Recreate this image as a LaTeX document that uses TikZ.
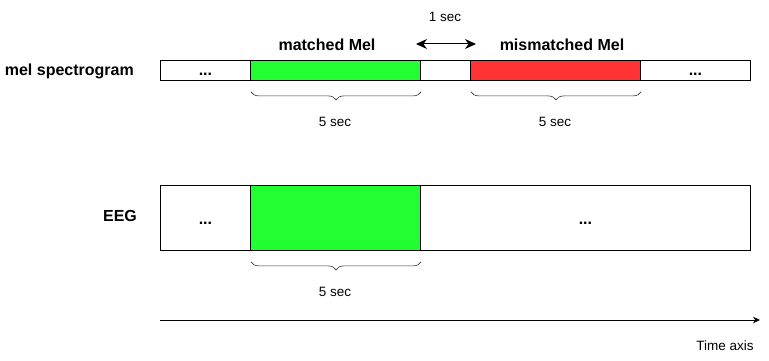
\documentclass[tikz,border=0pt]{standalone}
\usepackage{fontspec}
\setmainfont{Liberation Sans}
\usetikzlibrary{arrows.meta,decorations.pathreplacing}
\begin{document}
\begin{tikzpicture}[x=1pt,y=-1pt,
  cell/.style={draw=black,line width=0.9pt,minimum height=20pt,inner sep=0pt,anchor=north west},
  eegcell/.style={draw=black,line width=0.9pt,minimum height=65pt,inner sep=0pt,anchor=north west},
  lbl/.style={font=\fontsize{16}{18}\selectfont\bfseries,inner sep=0pt},
  dots/.style={font=\fontsize{16}{18}\selectfont\bfseries,inner sep=0pt},
  small/.style={font=\fontsize{13.5}{15}\selectfont,inner sep=0pt},
  brc/.style={decorate,decoration={brace,mirror,amplitude=8pt,aspect=0.5},line width=0.6pt,draw=black!80}
]
\useasboundingbox (0,0) rectangle (769,361);
\definecolor{mgreen}{RGB}{33,255,51}
\definecolor{mred}{RGB}{255,51,51}
% mel row
\node[cell,minimum width=90pt] (m1) at (160,60) {};
\node[cell,minimum width=170pt,fill=mgreen] (m2) at (250,60) {};
\node[cell,minimum width=50pt] (m3) at (420,60) {};
\node[cell,minimum width=170pt,fill=mred] (m4) at (470,60) {};
\node[cell,minimum width=110pt] (m5) at (640,60) {};
\node[dots] at ([yshift=-4pt]m1.center) {...};
\node[dots] at ([yshift=-4pt]m5.center) {...};
\node[lbl,anchor=east] (mel) at (134,71) {mel spectrogram};
\node[lbl] (mt) at (327,45) {matched Mel};
\node[lbl] (mm) at (562,45) {mismatched Mel};
\node[small] (one) at (445,17) {1 sec};
\coordinate (aL) at (416,44);
\coordinate (aR) at (476,44);
\draw[{Stealth[length=11pt,width=10pt]}-{Stealth[length=11pt,width=10pt]},line width=1pt] (aL) -- (aR);
% braces
\draw[brc] (m2.south west) ++(1,11) -- ++(170,0) coordinate (b1e);
\draw[brc] (m4.south west) ++(1,11) -- ++(170,0) coordinate (b2e);
\node[small] (s1) at (335,122) {5 sec};
\node[small] (s2) at (555,122) {5 sec};
% EEG row
\node[eegcell,minimum width=90pt] (e1) at (160,185) {};
\node[eegcell,minimum width=170pt,fill=mgreen] (e2) at (250,185) {};
\node[eegcell,minimum width=330pt] (e3) at (420,185) {};
\node[dots] at ([yshift=-5pt]e1.center) {...};
\node[dots] at ([yshift=-5pt]e3.center) {...};
\node[lbl] (eeg) at (120,216) {EEG};
\draw[brc] (e2.south west) ++(1,11) -- ++(170,0) coordinate (b3e);
\node[small] (s3) at (335,292) {5 sec};
% time axis
\coordinate (t0) at (160,320);
\coordinate (t1) at (760,320);
\draw[-{Stealth[length=7pt,width=6.5pt]},line width=0.9pt] (t0) -- (t1);
\node[small] (ta) at (725,346) {Time axis};
\end{tikzpicture}
\end{document}
